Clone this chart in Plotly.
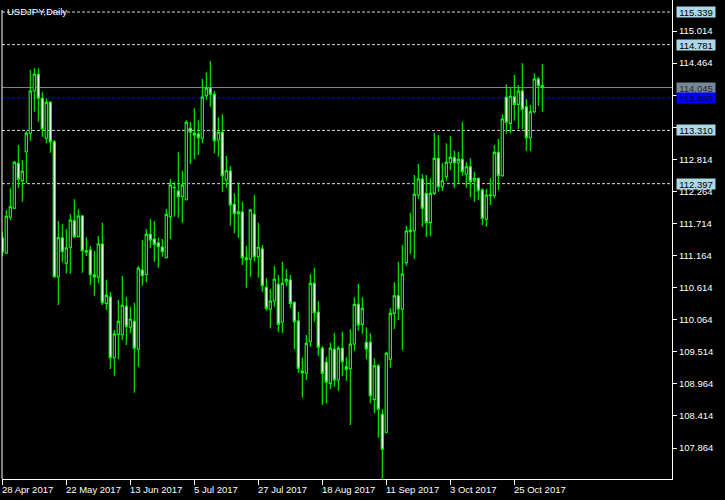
import pandas as pd
import plotly.graph_objects as go

# ---- data (USDJPY daily) ----
dates = pd.bdate_range("2017-04-28", periods=136).strftime("%Y-%m-%d").tolist()

open_ = [111.465, 111.208, 111.820, 111.975, 112.745, 112.448, 112.945, 113.260, 113.986, 114.272,
         113.861, 113.175, 113.792, 113.116, 110.801, 111.470, 111.031, 111.306, 111.762, 111.487,
         111.842, 111.247, 111.259, 110.835, 110.791, 111.362, 110.345, 110.453, 109.413, 109.813,
         109.806, 110.294, 109.934, 110.037, 109.557, 110.916, 110.842, 111.528, 111.448, 111.380,
         111.311, 111.127, 111.830, 112.335, 112.271, 112.173, 112.122, 113.346, 113.266, 113.248,
         113.175, 113.905, 114.032, 113.929, 113.145, 113.278, 112.460, 112.614, 112.043, 111.882,
         111.911, 111.127, 111.100, 111.871, 111.144, 111.276, 110.620, 110.243, 110.385, 110.671,
         110.020, 110.716, 110.745, 110.362, 110.042, 109.185, 109.145, 109.687, 110.688, 110.191,
         109.574, 109.334, 108.973, 109.557, 109.030, 109.574, 109.258, 109.224, 109.647, 110.328,
         109.985, 109.676, 109.676, 108.699, 109.275, 108.442, 108.134, 109.386, 110.173, 110.475,
         110.243, 111.042, 111.573, 111.590, 112.202, 112.477, 112.231, 111.728, 112.231, 112.831,
         112.345, 112.516, 112.756, 112.848, 112.756, 112.814, 112.557, 112.688, 112.443, 112.489,
         112.288, 111.786, 112.202, 112.190, 112.934, 112.533, 113.877, 113.431, 113.888, 113.757,
         113.986, 113.716, 113.185, 113.631, 114.191, 114.076]

high = [111.568, 111.945, 112.318, 112.785, 113.059, 112.802, 113.300, 114.346, 114.375, 114.375,
        113.964, 113.861, 113.814, 113.145, 111.757, 111.700, 111.620, 111.876, 112.129, 111.958,
        111.859, 111.477, 111.328, 111.242, 111.499, 111.728, 110.745, 110.539, 109.887, 110.402,
        110.813, 110.453, 110.287, 110.356, 110.985, 111.431, 111.620, 111.791, 111.757, 111.470,
        111.448, 111.962, 112.477, 112.431, 112.940, 112.614, 113.483, 113.459, 113.689, 113.483,
        114.191, 114.307, 114.500, 113.986, 113.535, 113.586, 112.871, 112.699, 112.231, 112.421,
        112.088, 111.328, 111.962, 112.202, 111.728, 111.345, 110.774, 110.590, 110.985, 110.830,
        111.059, 110.933, 110.830, 110.376, 110.201, 109.413, 109.801, 110.847, 110.956, 110.385,
        109.613, 109.430, 109.670, 109.841, 109.613, 109.858, 109.419, 109.899, 110.448, 110.676,
        110.448, 109.932, 109.830, 109.402, 109.304, 108.528, 109.516, 110.260, 110.706, 111.059,
        111.345, 111.671, 111.899, 112.545, 112.733, 112.563, 112.545, 112.489, 113.271, 113.231,
        112.756, 113.088, 113.214, 112.962, 112.945, 113.459, 112.763, 112.831, 112.602, 112.500,
        112.318, 112.305, 112.489, 113.059, 113.162, 113.586, 114.100, 114.032, 114.260, 114.089,
        114.460, 113.848, 113.746, 114.289, 114.231, 114.449]

low = [111.156, 111.190, 111.774, 111.962, 112.318, 112.088, 112.403, 113.133, 113.631, 113.459,
       113.202, 113.088, 112.928, 110.784, 110.316, 111.049, 110.859, 110.853, 111.460, 111.473,
       110.870, 111.156, 110.659, 110.475, 110.688, 110.316, 110.230, 109.219, 109.104, 109.386,
       109.716, 109.630, 109.830, 108.813, 109.258, 110.647, 110.706, 111.299, 111.059, 110.956,
       111.144, 111.113, 111.448, 111.830, 111.813, 111.728, 112.108, 112.733, 112.819, 112.888,
       113.088, 113.831, 113.716, 112.917, 112.859, 112.259, 112.328, 111.676, 111.545, 111.470,
       111.002, 110.613, 110.801, 111.059, 110.784, 110.544, 110.218, 109.917, 110.287, 109.858,
       109.841, 110.642, 110.260, 109.557, 109.156, 108.727, 109.030, 109.602, 110.030, 109.447,
       108.602, 108.630, 108.871, 108.915, 108.847, 109.099, 109.018, 108.259, 109.533, 109.875,
       109.818, 109.386, 108.630, 108.459, 108.041, 107.332, 108.116, 109.242, 109.904, 110.059,
       109.545, 110.990, 111.190, 111.105, 112.134, 111.659, 111.477, 111.499, 112.202, 112.259,
       112.271, 112.448, 112.631, 112.328, 112.403, 112.533, 112.328, 112.163, 112.088, 112.117,
       111.688, 111.659, 112.031, 112.146, 112.288, 112.516, 113.253, 113.260, 113.476, 113.334,
       113.334, 112.957, 112.957, 113.603, 113.734, 113.631]

close = [111.225, 111.837, 112.002, 112.763, 112.472, 112.609, 113.260, 113.986, 114.272, 113.861,
         113.334, 113.792, 113.116, 110.801, 111.470, 111.230, 111.299, 111.774, 111.487, 111.842,
         111.247, 111.225, 110.835, 110.796, 111.362, 110.356, 110.482, 109.413, 109.818, 110.037,
         110.311, 109.944, 110.071, 109.574, 110.946, 110.818, 111.528, 111.431, 111.357, 111.316,
         111.230, 111.871, 112.374, 112.326, 112.173, 112.374, 113.449, 113.278, 113.231, 113.185,
         113.883, 114.032, 113.929, 113.133, 113.278, 112.533, 112.619, 112.031, 111.882, 111.916,
         111.127, 111.093, 111.945, 111.144, 111.306, 110.647, 110.260, 110.385, 110.757, 109.985,
         110.688, 110.757, 110.345, 110.030, 109.231, 109.156, 109.659, 110.688, 110.184, 109.591,
         109.145, 108.991, 109.574, 109.030, 109.574, 109.344, 109.214, 109.647, 110.328, 109.973,
         110.260, 109.562, 108.761, 109.275, 108.528, 107.842, 109.488, 110.173, 110.475, 110.248,
         110.847, 111.585, 111.602, 112.215, 112.477, 111.975, 111.728, 112.231, 112.831, 112.345,
         112.448, 112.763, 112.848, 112.756, 112.814, 112.602, 112.688, 112.431, 112.489, 112.276,
         111.803, 112.202, 112.190, 112.934, 112.533, 113.505, 113.449, 113.895, 113.757, 113.986,
         113.672, 113.185, 113.631, 114.191, 114.076, 114.045]

date_tick_dates = ["2017-04-28", "2017-05-22", "2017-06-13", "2017-07-05", "2017-07-27",
                   "2017-08-18", "2017-09-11", "2017-10-03", "2017-10-25"]
date_tick_labels = ["28 Apr 2017", "22 May 2017", "13 Jun 2017", "5 Jul 2017", "27 Jul 2017",
                    "18 Aug 2017", "11 Sep 2017", "3 Oct 2017", "25 Oct 2017"]

price_ticks = [107.864, 108.414, 108.964, 109.514, 110.064, 110.614, 111.164, 111.714,
               112.264, 112.814, 113.364, 113.914, 114.464, 115.014]
# labels fully hidden behind the current-price boxes in the reference
hidden_ticks = [113.914]

level_lines = [115.339, 114.781, 113.310, 112.397]   # dashed light levels
bid_price = 114.045
ask_price = 113.868

FONT = "Liberation Sans"
FS = 9.5

fig = go.Figure()
fig.add_trace(go.Candlestick(
    x=dates, open=open_, high=high, low=low, close=close,
    increasing=dict(line=dict(color="#00ff00", width=1.1), fillcolor="#000000"),
    decreasing=dict(line=dict(color="#00ff00", width=1.1), fillcolor="#ffffff"),
    whiskerwidth=0, hoverinfo="skip", showlegend=False,
))

shapes = []
for lv in level_lines:
    shapes.append(dict(type="line", xref="paper", x0=0, x1=1, yref="y", y0=lv, y1=lv,
                       line=dict(color="#c8dce6", width=1, dash="3px,2px"), layer="below"))
shapes.append(dict(type="line", xref="paper", x0=0, x1=1, yref="y", y0=bid_price, y1=bid_price,
                   line=dict(color="#778899", width=1), layer="below"))
shapes.append(dict(type="line", xref="paper", x0=0, x1=1, yref="y", y0=ask_price, y1=ask_price,
                   line=dict(color="#0000ff", width=1, dash="3px,2px"), layer="below"))
# left frame line
shapes.append(dict(type="line", xref="paper", x0=0, x1=0, yref="paper", y0=0, y1=1 - 10 / 479,
                   line=dict(color="#ffffff", width=1)))

annotations = []
for d, lab in zip(date_tick_dates, date_tick_labels):
    annotations.append(dict(x=d, xref="x", y=0, yref="paper", text=lab, showarrow=False,
                            xanchor="left", yanchor="top", yshift=-3, xshift=-2,
                            font=dict(family=FONT, size=FS, color="#ffffff")))

def price_box(val, bg, fg):
    return dict(x=1, xref="paper", y=val, yref="y", text=f"{val:.3f}", showarrow=False,
                xanchor="left", yanchor="middle", xshift=4, bgcolor=bg, width=38, height=10,
                borderpad=0, font=dict(family=FONT, size=FS, color=fg))

for lv in level_lines:
    annotations.append(price_box(lv, "#add8e6", "#000000"))
annotations.append(price_box(bid_price, "#778899", "#2a2a2a"))
annotations.append(price_box(ask_price, "#0000ff", "#000033"))

annotations.append(dict(x=0, xref="paper", y=1, yref="paper", text="USDJPY,Daily", showarrow=False,
                        xanchor="left", yanchor="middle", xshift=3, yshift=-11,
                        font=dict(family=FONT, size=FS, color="#ffffff")))

fig.update_layout(
    width=725, height=500,
    margin=dict(l=2, r=53, t=0, b=21, pad=0),
    paper_bgcolor="#000000", plot_bgcolor="#000000",
    boxgap=0.2,
    shapes=shapes, annotations=annotations,
    xaxis=dict(type="category", range=[-0.075, 167.425], rangeslider=dict(visible=False),
               showgrid=False, zeroline=False, showline=True, linecolor="#ffffff", linewidth=1,
               ticks="outside", ticklen=5, tickcolor="#ffffff", tickwidth=1,
               tickvals=date_tick_dates, showticklabels=False, fixedrange=True),
    yaxis=dict(side="right", range=[107.333, 115.546], showgrid=False, zeroline=False,
               showline=True, linecolor="#ffffff", linewidth=1,
               ticks="outside", ticklen=4, tickcolor="#ffffff", tickwidth=1,
               tickvals=price_ticks,
               ticktext=["" if v in hidden_ticks else f"{v:.3f}" for v in price_ticks],
               tickfont=dict(family=FONT, size=FS, color="#ffffff"), fixedrange=True),
    showlegend=False,
)

fig.write_html("out.html", config={"displayModeBar": False},
               post_script="document.body.style.margin='0';document.body.style.background='#000';")
